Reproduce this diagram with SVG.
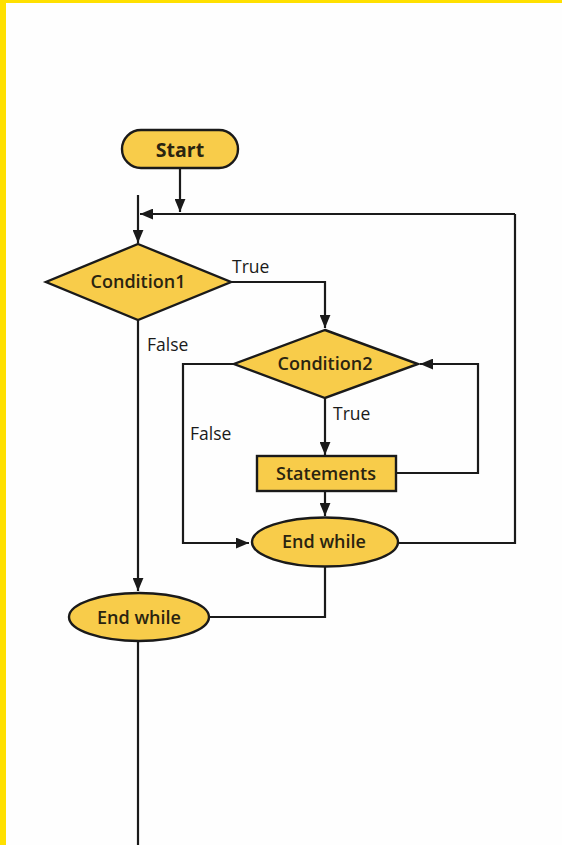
<svg xmlns="http://www.w3.org/2000/svg" width="562" height="845" viewBox="0 0 562 845">
<defs>
<marker id="arr" viewBox="0 0 12 10" refX="12" refY="5" markerWidth="6" markerHeight="5" orient="auto" markerUnits="strokeWidth">
<path d="M0,0 L12,5 L0,10 z" fill="#1a1a1a"/>
</marker>
<style>
.n{fill:#F8CC4A;stroke:#1a1a1a;stroke-width:2.4}
.c{fill:none;stroke:#1a1a1a;stroke-width:2.2}
.t{font-family:"Open Sans","Noto Sans",sans-serif;font-weight:600;font-size:18px;fill:#2a2410;text-anchor:middle;dominant-baseline:central}
.l{font-family:"Open Sans","Noto Sans",sans-serif;font-weight:500;font-size:17.5px;fill:#1a1a1a}
</style>
</defs>
<rect width="562" height="845" fill="#fefefe"/>
<rect x="0" y="0" width="562" height="3" fill="#FFE000"/>
<rect x="0" y="0" width="6" height="845" fill="#FFE000"/>
<g id="connectors">
<path class="c" d="M180,168 V212" marker-end="url(#arr)"/>
<path class="c" d="M515,214 H140" marker-end="url(#arr)"/>
<path class="c" d="M138,195 V243" marker-end="url(#arr)"/>
<path class="c" d="M231,282 H325 V328" marker-end="url(#arr)"/>
<path class="c" d="M138,320 V591" marker-end="url(#arr)"/>
<path class="c" d="M234,364 H183 V543 H249" marker-end="url(#arr)"/>
<path class="c" d="M325,398 V455" marker-end="url(#arr)"/>
<path class="c" d="M396,473 H478 V364 H420" marker-end="url(#arr)"/>
<path class="c" d="M325,491 V516" marker-end="url(#arr)"/>
<path class="c" d="M398,543 H515 V214"/>
<path class="c" d="M325,567 V617 H209"/>
<path class="c" d="M138,641 V845"/>
<text class="l" x="232" y="273">True</text>
<text class="l" x="147" y="351">False</text>
<text class="l" x="333" y="420">True</text>
<text class="l" x="190" y="440">False</text>
</g>
<g id="start">
<rect class="n" x="122" y="130" width="116" height="38" rx="19"/>
<text class="t" x="180" y="149" style="font-size:19.5px;font-weight:700">Start</text>
</g>
<g id="condition1">
<polygon class="n" points="138,244 231,282 138,320 46,282"/>
<text class="t" x="138" y="281">Condition1</text>
</g>
<g id="condition2">
<polygon class="n" points="325,330 418,364 325,398 234,364"/>
<text class="t" x="325" y="363">Condition2</text>
</g>
<g id="statements">
<rect class="n" x="257" y="456" width="139" height="35"/>
<text class="t" x="326" y="473">Statements</text>
</g>
<g id="endwhile-inner">
<ellipse class="n" cx="325" cy="542" rx="73" ry="24.5"/>
<text class="t" x="324" y="541">End while</text>
</g>
<g id="endwhile-outer">
<ellipse class="n" cx="139" cy="617" rx="70" ry="24"/>
<text class="t" x="139" y="617">End while</text>
</g>
</svg>
